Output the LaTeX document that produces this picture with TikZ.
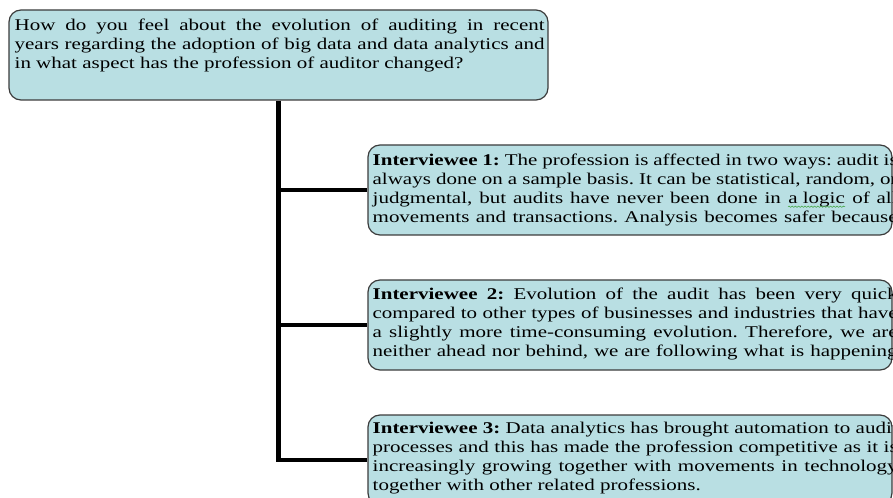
\documentclass[tikz,border=0pt]{standalone}
\usepackage{fontspec}
\setmainfont{Liberation Serif}[FakeStretch=1.28]
\usetikzlibrary{positioning,calc,decorations.pathmorphing}
\definecolor{boxfill}{HTML}{B9DFE3}
\definecolor{boxline}{HTML}{3C3C3C}
\definecolor{wavegreen}{HTML}{3FA33F}
\frenchspacing
\newcommand{\fullline}[2][393.75pt]{\makebox[#1][s]{\spaceskip=0pt\xspaceskip=0pt #2}}
\newcommand{\greenwave}[1]{\tikz[baseline=(w.base)]{\node[inner sep=0pt] (w) {#1};
  \draw[wavegreen, line width=0.4pt, decorate, decoration={snake, amplitude=0.5pt, segment length=2.4pt}] ([yshift=-2.4pt]w.base west) -- ([yshift=-2.4pt]w.base east);}}

\tikzset{
  roundbox/.style={draw=boxline, fill=boxfill, line width=0.9pt, rounded corners=9pt, inner sep=0pt},
  boxtext/.style={inner sep=0pt, anchor=base west, align=justify, font=\fontsize{12.3pt}{14.3pt}\selectfont},
  trunk/.style={line width=3.6pt},
  branch/.style={line width=2.7pt}
}

\begin{document}
\begin{tikzpicture}[x=0.75pt, y=0.75pt]
    \useasboundingbox (0,0) rectangle (893,497);
    \clip (0,0) rectangle (893,497);
    % question box
    \node[roundbox, minimum width=404.25pt, minimum height=67.5pt] (question) at (278.5,442) {};
    \node[boxtext, text width=397.5pt] (qtext) at ([shift={(6,-21)}]question.north west) {%
      \fullline[397.5pt]{How do you feel about the evolution of auditing in recent}\\
      \fullline[397.5pt]{years regarding the adoption of big data and data analytics and}\\
      in what aspect has the profession of auditor changed?};
    % answers
    \node[roundbox, minimum width=393pt, minimum height=67.5pt] (ans1) at (630,307) {};
    \node[roundbox, minimum width=393pt, minimum height=67.5pt] (ans2) at (630,172) {};
    \node[roundbox, minimum width=393pt, minimum height=67.5pt] (ans3) at (630,37) {};
    \node[boxtext, text width=393.75pt] (atext1) at ([shift={(5,-21)}]ans1.north west) {%
      \fullline{\textbf{Interviewee 1:} The profession is affected in two ways: audit is}\\
      \fullline{always done on a sample basis. It can be statistical, random, or}\\
      \fullline{judgmental, but audits have never been done in \greenwave{a logic} of all}\\
      \fullline{movements and transactions. Analysis becomes safer because}};
    \node[boxtext, text width=393.75pt] (atext2) at ([shift={(5,-20)}]ans2.north west) {%
      \fullline{\textbf{Interviewee 2:} Evolution of the audit has been very quick}\\
      \fullline{compared to other types of businesses and industries that have}\\
      \fullline{a slightly more time-consuming evolution. Therefore, we are}\\
      \fullline{neither ahead nor behind, we are following what is happening}};
    \node[boxtext, text width=393.75pt] (atext3) at ([shift={(5,-19)}]ans3.north west) {%
      \fullline{\textbf{Interviewee 3:} Data analytics has brought automation to audit}\\
      \fullline{processes and this has made the profession competitive as it is}\\
      \fullline{increasingly growing together with movements in technology}\\
      together with other related professions.};
    % tree lines
    \draw[trunk] (question.south) -- ([yshift=-1.35pt]question.south |- ans3.west);
    \draw[branch] (question.south |- ans1.west) -- (ans1.west);
    \draw[branch] (question.south |- ans2.west) -- (ans2.west);
    \draw[branch] (question.south |- ans3.west) -- (ans3.west);
\end{tikzpicture}
\end{document}
